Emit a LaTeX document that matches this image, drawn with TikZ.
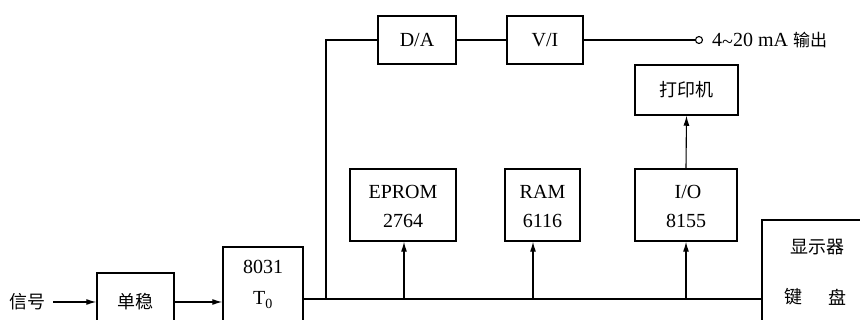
\documentclass[tikz,border=0pt]{standalone}
\usepackage{fontspec}
\setmainfont{Liberation Serif}
\newfontfamily\cjk{Noto Sans CJK SC}
\usetikzlibrary{arrows.meta}
\tikzset{
  blk/.style={draw, line width=1.5pt, inner sep=0pt, minimum width=#1},
  ln/.style={line width=1.1pt},
  arr/.style={line width=1.1pt, -{Latex[length=10pt,width=6pt]}},
  lat/.style={font=\fontsize{20}{20}\selectfont, inner sep=0pt},
  zh/.style={font=\cjk\fontsize{18}{18}\selectfont, inner sep=0pt},
}
\begin{document}
\begin{tikzpicture}[x=1pt,y=-1pt]
\useasboundingbox (0,0) rectangle (860,320);
\clip (0,0) rectangle (860,320);
% boxes
\node[blk=77pt, minimum height=58pt] (mono) at (135.5,302) {};
\node[zh] (monot) at (135.5,302) {单稳};
\node[blk=80pt, minimum height=83pt] (cpu) at (263,288.5) {};
\node[lat] (cpua) at (263,267) {8031};
\node[lat] (cpub) at (263,300) {T\textsubscript{0}};
\node[blk=78pt, minimum height=48pt] (da) at (417,40) {};
\node[lat] (dat) at (417,40) {D/A};
\node[blk=76pt, minimum height=48pt] (vi) at (545,40) {};
\node[lat] (vit) at (545,40) {V/I};
\node[draw, circle, line width=1.1pt, inner sep=0pt, minimum size=7pt] (oc) at (699,40) {};
\node[anchor=west, inner sep=0pt] (out) at (712,40) {\fontsize{20}{20}\selectfont 4\raisebox{-0.25ex}{\textasciitilde}20 mA {\cjk\fontsize{17}{17}\selectfont 输出}};
\node[blk=103pt, minimum height=50pt] (prn) at (686.5,90) {};
\node[zh] (prnt) at (686.5,90) {打印机};
\node[blk=106pt, minimum height=72pt] (eprom) at (403,205) {};
\node[lat] (epa) at (403,192) {EPROM};
\node[lat] (epb) at (403,221) {2764};
\node[blk=75pt, minimum height=72pt] (ram) at (542.5,205) {};
\node[lat] (rama) at (542.5,192) {RAM};
\node[lat] (ramb) at (542.5,221) {6116};
\node[blk=102pt, minimum height=72pt] (io) at (686,205) {};
\node[lat] (ioa) at (688,192) {I/O};
\node[lat] (iob) at (686,221) {8155};
\node[blk=120pt, minimum height=130pt] (disp) at (822,285) {};
\node[zh] (dispa) at (817,247) {显示器};
\node[zh] (dispb) at (793,297) {键};
\node[zh] (dispc) at (837,297) {盘};
\node[zh, anchor=west] (sig) at (9,302) {信号};
% bus coordinates
\coordinate (busy) at (0,299);
\coordinate (tap) at (326,299);
\coordinate (t1) at (404,299);
\coordinate (t2) at (533,299);
\coordinate (t3) at (686,299);
% connectors
\draw[arr] (sig.east) ++(8pt,0) -- (mono.west);
\draw[arr] (mono.east) -- (cpu.west |- mono.east);
\draw[ln] (cpu.east |- busy) -- (disp.west |- busy);
\draw[ln] (tap) |- (da.west);
\draw[ln] (da.east) -- (vi.west);
\draw[ln] (vi.east) -- (oc.west);
\draw[arr] (t1) -- (t1 |- eprom.south);
\draw[arr] (t2) -- (t2 |- ram.south);
\draw[arr] (t3) -- (t3 |- io.south);
\draw[arr] (io.north) -- (prn.south);
\end{tikzpicture}
\end{document}
